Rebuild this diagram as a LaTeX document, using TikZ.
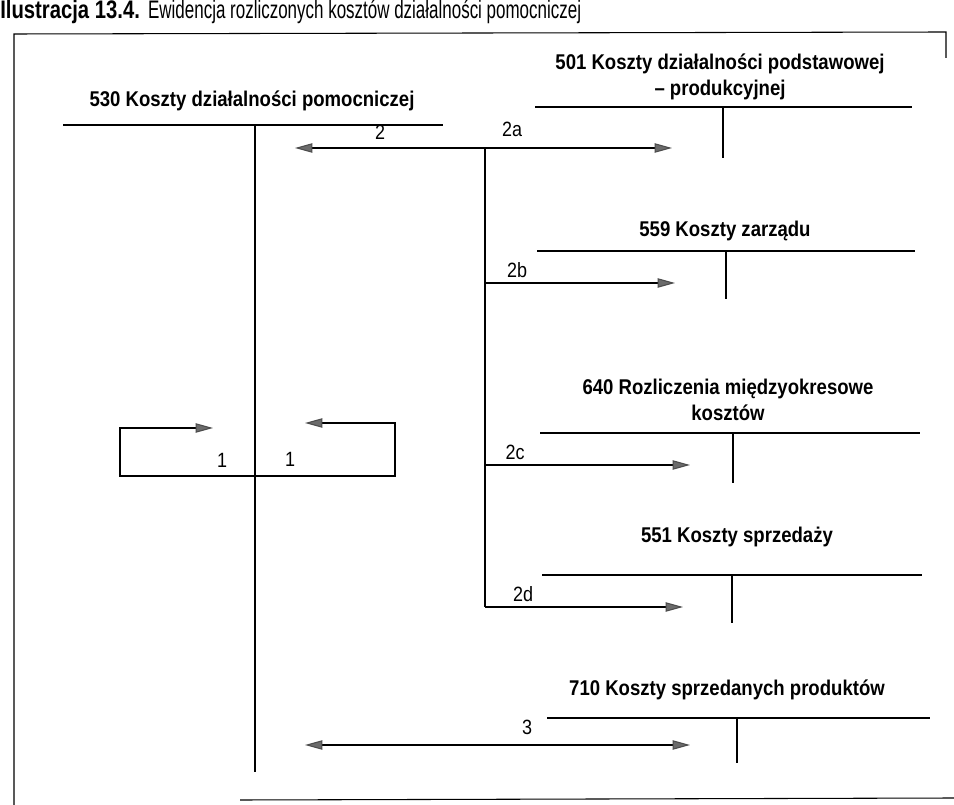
\documentclass[tikz,border=0pt]{standalone}
\usepackage{fontspec}
\setmainfont{Liberation Sans}[FakeStretch=0.87]
\newfontfamily\titlebf{Liberation Sans}[FakeStretch=0.8]
\newfontfamily\titlerg{Liberation Sans}[FakeStretch=0.67]
\usetikzlibrary{arrows.meta}
\tikzset{gtip/.tip={Triangle[length=13pt,width=7pt,color=black!70,fill=black!58]}}
\begin{document}
\begin{tikzpicture}[x=0.75pt,y=-0.75pt,
  acct/.style={font=\bfseries\fontsize{16}{19.5}\selectfont, align=center, inner sep=0, anchor=base},
  lbl/.style={font=\fontsize{15.5}{18}\selectfont, inner sep=0, anchor=base},
  tline/.style={line width=0.95pt},
  frame/.style={line width=0.8pt},
  arr/.style={line width=0.8pt, -{gtip}},
  darr/.style={line width=0.8pt, {gtip}-{gtip}},
  plain/.style={line width=0.8pt}
]
\useasboundingbox (0,0) rectangle (954,805);

% title
\node[anchor=base west, font=\fontsize{19}{22}\selectfont, inner sep=0] (title) at (0,19)
  {{\titlebf\bfseries Ilustracja 13.4.} {\titlerg Ewidencja rozliczonych kosztów działalności pomocniczej}};

% frame
\coordinate (fbl) at (14,805);
\coordinate (ftl) at (14,34);
\coordinate (ftr) at (946,32);
\coordinate (fr) at (946,58);
\coordinate (fb1) at (240,800);
\coordinate (fb2) at (954,798);
\draw[frame] (fbl) -- (ftl) -- (ftr) -- (fr);
\draw[frame] (fb1) -- (fb2);

% 530
\node[acct] (t530) at (252,107) {530 Koszty działalności pomocniczej};
\coordinate (h530l) at (63,125);
\coordinate (h530r) at (443,125);
\coordinate (v530t) at (255,125);
\coordinate (v530b) at (255,772);
\draw[tline] (h530l) -- (h530r);
\draw[tline] (v530t) -- (v530b);

% 501 (base anchor = last line)
\node[acct] (t501) at (720,96) {501 Koszty działalności podstawowej\\– produkcyjnej};
\coordinate (h501l) at (535,107);
\coordinate (h501r) at (912,107);
\coordinate (v501t) at (723,107);
\coordinate (v501b) at (723,158);
\draw[tline] (h501l) -- (h501r);
\draw[tline] (v501t) -- (v501b);

% 559
\node[acct] (t559) at (725,237) {559 Koszty zarządu};
\coordinate (h559l) at (537,251);
\coordinate (h559r) at (915,251);
\coordinate (v559t) at (726,251);
\coordinate (v559b) at (726,299);
\draw[tline] (h559l) -- (h559r);
\draw[tline] (v559t) -- (v559b);

% 640
\node[acct] (t640) at (728,421) {640 Rozliczenia międzyokresowe\\kosztów};
\coordinate (h640l) at (540,433);
\coordinate (h640r) at (920,433);
\coordinate (v640t) at (733,433);
\coordinate (v640b) at (733,483);
\draw[tline] (h640l) -- (h640r);
\draw[tline] (v640t) -- (v640b);

% 551
\node[acct] (t551) at (737,543) {551 Koszty sprzedaży};
\coordinate (h551l) at (542,575);
\coordinate (h551r) at (922,575);
\coordinate (v551t) at (732,575);
\coordinate (v551b) at (732,623);
\draw[tline] (h551l) -- (h551r);
\draw[tline] (v551t) -- (v551b);

% 710
\node[acct] (t710) at (727,695) {710 Koszty sprzedanych produktów};
\coordinate (h710l) at (547,718);
\coordinate (h710r) at (930,718);
\coordinate (v710t) at (737,718);
\coordinate (v710b) at (737,763);
\draw[tline] (h710l) -- (h710r);
\draw[tline] (v710t) -- (v710b);

% arrow 2 / 2a
\coordinate (a2l) at (295,148);
\coordinate (a2r) at (672,148);
\draw[darr] (a2l) -- (a2r);
\node[lbl] (l2) at (380,140) {2};
\node[lbl] (l2a) at (512,137) {2a};

% branch
\coordinate (brt) at (485,148);
\coordinate (brb) at (485,607);
\draw[plain] (brt) -- (brb);

% 2b, 2c, 2d
\coordinate (b2b) at (485,283);
\coordinate (e2b) at (675,283);
\draw[arr] (b2b) -- (e2b);
\node[lbl] (l2b) at (517,278) {2b};

\coordinate (b2c) at (485,465);
\coordinate (e2c) at (690,465);
\draw[arr] (b2c) -- (e2c);
\node[lbl] (l2c) at (515,460) {2c};

\coordinate (b2d) at (485,607);
\coordinate (e2d) at (683,607);
\draw[arr] (b2d) -- (e2d);
\node[lbl] (l2d) at (523,602) {2d};

% arrow 3
\coordinate (a3l) at (305,745);
\coordinate (a3r) at (690,745);
\draw[darr] (a3l) -- (a3r);
\node[lbl] (l3) at (527,734) {3};

% loop 1
\coordinate (lb) at (255,476);
\coordinate (lc) at (120,428);
\coordinate (le) at (213,428);
\coordinate (rc) at (395,423);
\coordinate (re) at (305,423);
\draw[arr] (lb) -| (lc) -- (le);
\draw[arr] (lb) -| (rc) -- (re);
\node[lbl] (l1a) at (222,468) {1};
\node[lbl] (l1b) at (290,467) {1};
\end{tikzpicture}
\end{document}
